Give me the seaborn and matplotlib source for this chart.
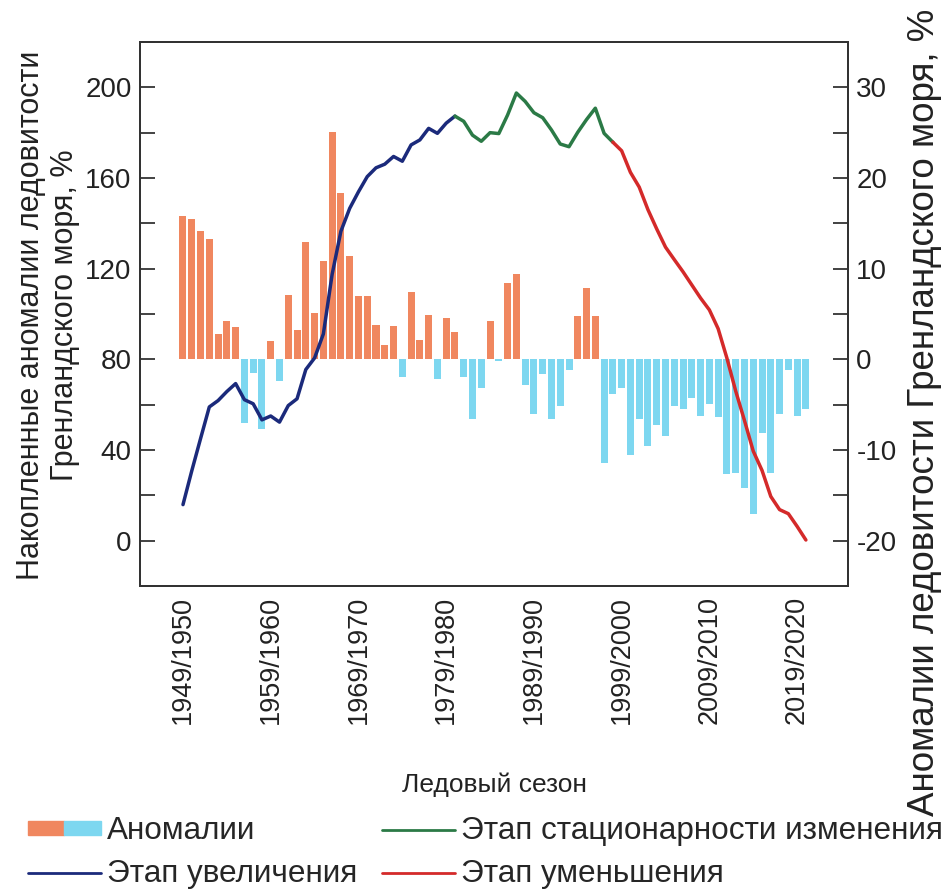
import numpy as np
import pandas as pd
import matplotlib
matplotlib.use("Agg")
import matplotlib.pyplot as plt
import seaborn as sns
from matplotlib.patches import Patch
from matplotlib.lines import Line2D
from matplotlib.legend_handler import HandlerTuple
from matplotlib.ticker import MultipleLocator

sns.set_theme(style="white")
plt.rcParams['font.family'] = ['Liberation Sans', 'DejaVu Sans']
plt.rcParams['axes.unicode_minus'] = False

# ---------------- data ----------------
seasons = list(range(1950, 2022))  # end year of ice season (1949/1950 ... 2020/2021)

anomalies = [15.8, 15.5, 14.2, 13.3, 2.8, 4.2, 3.6, -7.0, -1.5, -7.7,
             2.0, -2.4, 7.1, 3.2, 12.9, 5.1, 10.8, 25.1, 18.4, 11.4,
             7.0, 7.0, 3.8, 1.6, 3.7, -1.9, 7.4, 2.1, 4.9, -2.2,
             4.6, 3.0, -1.9, -6.6, -3.2, 4.2, -0.2, 8.4, 9.4, -2.8,
             -6.0, -1.6, -6.6, -5.1, -1.2, 4.8, 7.9, 4.8, -11.4, -3.8,
             -3.2, -10.6, -6.6, -9.6, -7.2, -8.5, -5.2, -5.5, -4.3, -6.2,
             -4.9, -6.4, -12.7, -12.5, -14.2, -17.1, -8.1, -12.5, -6.0, -1.2,
             -6.3, -5.5]

cumulative = [15.9, 30.8, 45.0, 59.0, 61.8, 65.8, 69.3, 62.2, 60.4, 53.3,
              55.0, 52.3, 59.6, 62.6, 75.5, 80.6, 91.2, 117.5, 136.5, 146.6,
              153.9, 160.6, 164.5, 166.1, 169.5, 167.4, 174.6, 176.8, 181.9, 179.7,
              184.2, 187.3, 185.0, 178.9, 176.2, 180.0, 179.6, 187.8, 197.5, 193.8,
              188.8, 186.6, 181.2, 175.0, 173.8, 180.2, 185.8, 190.8, 179.7, 175.8,
              172.0, 162.5, 156.0, 146.0, 137.5, 129.5, 124.0, 118.6, 112.8, 107.0,
              101.8, 93.5, 80.5, 66.0, 53.0, 39.5, 31.0, 19.5, 13.7, 11.9,
              6.3, 0.3]

stage_names = ["Этап увеличения", "Этап стационарности изменения", "Этап уменьшения"]
stage_bounds = [(1950, 1981), (1981, 1999), (1999, 2021)]
stage_colors = ["#1B2A7B", "#2B7A46", "#D42A2A"]

tick_years = [1950, 1960, 1970, 1980, 1990, 2000, 2010, 2020]
tick_labels = [f"{y-1}/{y}" for y in tick_years]

pos_color = "#F0875F"
neg_color = "#7DD7F0"

# ---------------- figure ----------------
fig = plt.figure(figsize=(9.44, 8.90), dpi=100)
ax = fig.add_axes([140/944, (890-586)/890, 708/944, 544/890])   # left axis: cumulative
ax2 = ax.twinx()                                                 # right axis: anomalies

df_bar = pd.DataFrame({"season": seasons, "anom": anomalies})
df_bar["sign"] = np.where(df_bar["anom"] >= 0, "pos", "neg")
sns.barplot(data=df_bar, x="season", y="anom", hue="sign", native_scale=True,
            palette={"pos": pos_color, "neg": neg_color}, width=0.8, dodge=False,
            legend=False, ax=ax2, linewidth=0, saturation=1)

df_line = pd.DataFrame({"season": seasons, "cum": cumulative})
for (a, b), col in zip(stage_bounds, stage_colors):
    seg = df_line[(df_line.season >= a) & (df_line.season <= b)]
    sns.lineplot(data=seg, x="season", y="cum", color=col, lw=2.5, ax=ax)

ax.set_zorder(ax2.get_zorder() + 1)
ax.patch.set_visible(False)

ax.set_xlim(1945.1, 2025.8)
ax.set_ylim(-20, 220)
ax2.set_ylim(-25, 35)
ax.yaxis.set_major_locator(MultipleLocator(40))
ax.yaxis.set_minor_locator(MultipleLocator(20))
ax2.yaxis.set_major_locator(MultipleLocator(10))
ax2.yaxis.set_minor_locator(MultipleLocator(5))
ax.set_xticks(tick_years)
ax.set_xticklabels(tick_labels, rotation=90)
ax.set_xlabel("")
ax.set_ylabel("")
ax2.set_xlabel("")
ax2.set_ylabel("")

for a_ in (ax, ax2):
    a_.tick_params(axis="both", which="both", direction="in", length=11, width=1.2,
                   labelsize=20, colors="#222222", pad=6)
    for s in a_.spines.values():
        s.set_color("#333333")
        s.set_linewidth(1.4)
    a_.grid(False)
ax.tick_params(axis="x", pad=7, labelsize=19.5)
ax2.tick_params(axis="y", which="both", left=False, right=True)

fig.text(48/944, 1 - 315/890, "Накопленные аномалии ледовитости\nГренландского моря, %",
         rotation=90, ha="center", va="center", fontsize=22, multialignment="center",
         color="#222222")
fig.text(925/944, 1 - 412/890, "Аномалии ледовитости Гренландского моря, %",
         rotation=90, ha="center", va="center", fontsize=26.5, color="#222222")
fig.text(494/944, 1 - 785/890, "Ледовый сезон", ha="center", va="center",
         fontsize=19, color="#222222")

handles = [(Patch(color=pos_color), Patch(color=neg_color)),
           Line2D([], [], color=stage_colors[0], lw=2),
           Line2D([], [], color=stage_colors[1], lw=2),
           Line2D([], [], color=stage_colors[2], lw=2)]
labels = ["Аномалии", stage_names[0], stage_names[1], stage_names[2]]
fig.legend(handles, labels, ncol=2, loc="upper left",
           bbox_to_anchor=(28/944, 1 - 816/890), frameon=False, fontsize=22.7,
           handlelength=2.3, handleheight=0.3, handletextpad=0.2, columnspacing=0.8,
           labelspacing=0.42, borderaxespad=0, borderpad=0,
           handler_map={tuple: HandlerTuple(ndivide=None, pad=0)})

fig.savefig("out.png", dpi=100)
